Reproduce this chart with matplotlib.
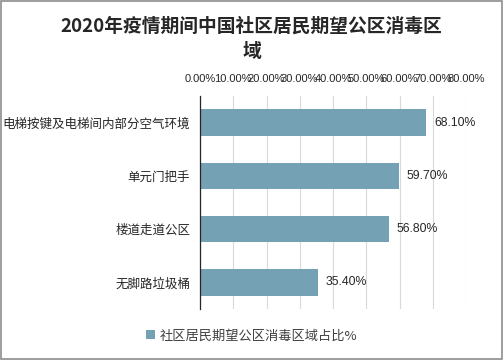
import matplotlib
matplotlib.use("Agg")
import matplotlib.pyplot as plt
from matplotlib.ticker import FuncFormatter
from matplotlib.patches import Rectangle

plt.rcParams['font.family'] = ['Noto Sans CJK SC', 'DejaVu Sans']

# data
categories = ['电梯按键及电梯间内部分空气环境', '单元门把手', '楼道走道公区', '无脚路垃圾桶']
values = [68.10, 59.70, 56.80, 35.40]
series_name = '社区居民期望公区消毒区域占比%'
title = '2020年疫情期间中国社区居民期望公区消毒区\n域'

bar_color = '#75A1B4'

fig = plt.figure(figsize=(5.03, 3.6), dpi=100)
ax = fig.add_axes([200 / 503, 1 - 309 / 360, 266 / 503, 213 / 360])

ypos = list(range(len(categories)))
ax.barh(ypos, values, height=0.5, color=bar_color, label=series_name, zorder=3)
ax.set_ylim(len(categories) - 0.5, -0.5)
ax.set_yticks(ypos)
ax.set_yticklabels(categories, fontsize=9, color='#262626')

ax.set_xlim(0, 80)
ax.set_xticks(range(0, 81, 10))
ax.xaxis.set_major_formatter(FuncFormatter(lambda v, p: f'{v:.2f}%'))
ax.xaxis.tick_top()
ax.tick_params(axis='x', labelsize=8, colors='#262626', length=0, pad=9)
for lb in ax.get_xticklabels():
    lb.set_family('Liberation Sans')
ax.tick_params(axis='y', length=0, pad=7)
ax.grid(axis='x', color='#d9d9d9', linewidth=0.8, zorder=0)

for s in ['top', 'right', 'bottom']:
    ax.spines[s].set_visible(False)
ax.spines['left'].set_color('#262626')
ax.spines['left'].set_linewidth(0.9)
ax.spines['left'].set_zorder(4)

for y, v in zip(ypos, values):
    ax.text(v + 2.3, y, f'{v:.2f}%', va='center', ha='left', fontsize=8.8,
            color='#262626', family='Liberation Sans')

fig.text(0.5, 1 - 39 / 360, title, ha='center', va='center', fontsize=13.5,
         fontweight='bold', color='#262626', linespacing=1.45)

fig.legend(loc='center', bbox_to_anchor=(0.5, 1 - 336 / 360), frameon=False,
           fontsize=9.5, handlelength=0.65, handleheight=0.65, handletextpad=0.35,
           labelcolor='#404040')

fig.patches.append(Rectangle((0.002, 0.003), 0.996, 0.994, transform=fig.transFigure,
                             fill=False, edgecolor='#8c8c8c', linewidth=1.2))

fig.savefig('out.png', dpi=100)
